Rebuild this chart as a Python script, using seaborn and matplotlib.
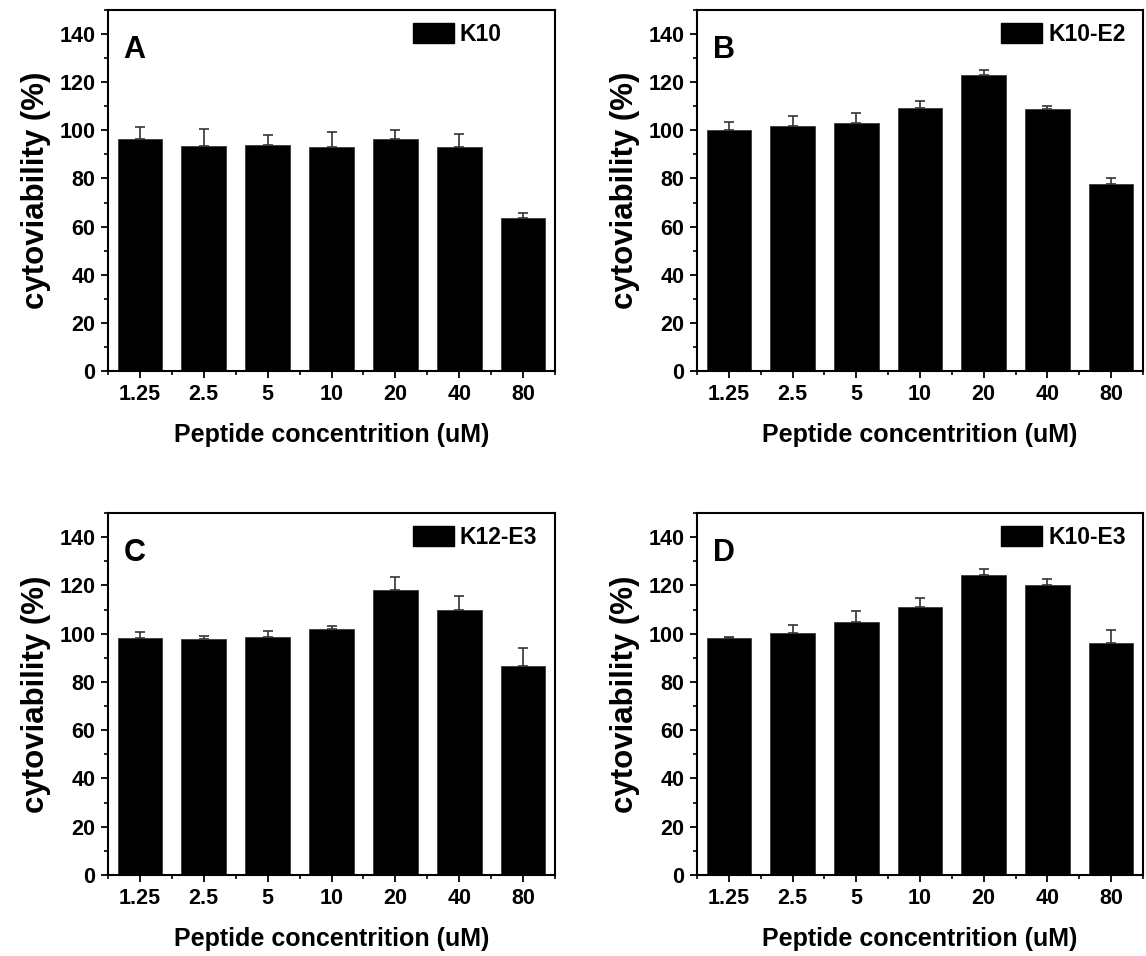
import matplotlib
matplotlib.use("Agg")
import matplotlib.pyplot as plt
from matplotlib.patches import Patch
from matplotlib.ticker import MultipleLocator, FixedLocator
import seaborn as sns
import numpy as np

# ---- data ----
concentrations = ["1.25", "2.5", "5", "10", "20", "40", "80"]

k10_vals = [96.2, 93.5, 93.9, 93.2, 96.4, 93.1, 63.7]
k10_err = [5.3, 7.0, 4.2, 6.3, 3.9, 5.5, 2.1]

k10e2_vals = [100.2, 102.0, 103.2, 109.2, 122.9, 108.8, 77.9]
k10e2_err = [3.4, 4.1, 4.2, 2.9, 2.2, 1.5, 2.3]

k12e3_vals = [98.4, 97.7, 98.8, 101.8, 118.1, 109.6, 86.4]
k12e3_err = [2.2, 1.5, 2.1, 1.3, 5.4, 6.0, 7.7]

k10e3_vals = [98.0, 100.2, 104.8, 110.9, 124.3, 120.2, 96.3]
k10e3_err = [0.6, 3.2, 4.5, 3.7, 2.4, 2.5, 5.4]

panel_letters = ["A", "B", "C", "D"]
series_names = ["K10", "K10-E2", "K12-E3", "K10-E3"]
y_ticks = [0, 20, 40, 60, 80, 100, 120, 140]

series_vals = [k10_vals, k10e2_vals, k12e3_vals, k10e3_vals]
series_errs = [k10_err, k10e2_err, k12e3_err, k10e3_err]

# ---- style ----
sns.set_theme(style="ticks")
plt.rcParams["font.family"] = ["Liberation Sans", "DejaVu Sans"]
plt.rcParams["font.weight"] = "bold"
plt.rcParams["axes.labelweight"] = "bold"
plt.rcParams["text.color"] = "black"
plt.rcParams["axes.labelcolor"] = "black"
plt.rcParams["xtick.color"] = "black"
plt.rcParams["ytick.color"] = "black"

W, H = 1146, 956
fig = plt.figure(figsize=(W / 100, H / 100), dpi=100)

# axes boxes in pixels: (left, right, top, bottom)
boxes = [(108, 555, 10, 371), (697, 1143, 10, 371),
         (108, 555, 513, 875), (697, 1143, 513, 875)]

for i, (l, r, t, b) in enumerate(boxes):
    ax = fig.add_axes([l / W, 1 - b / H, (r - l) / W, (b - t) / H])
    vals = series_vals[i]
    errs = series_errs[i]
    sns.barplot(x=concentrations, y=vals, color="black", width=0.7,
                edgecolor="#3a3a3a", linewidth=0.6, saturation=1,
                order=concentrations, ax=ax)
    xpos = np.arange(len(concentrations))
    ax.errorbar(xpos, vals, yerr=[np.zeros(len(vals)), errs], fmt="none",
                ecolor="#333333", elinewidth=1.2, capsize=3.5, capthick=1.2)
    ax.set_ylim(0, 150)
    ax.set_xlim(-0.5, len(concentrations) - 0.5)
    ax.yaxis.set_major_locator(FixedLocator(y_ticks))
    ax.yaxis.set_minor_locator(MultipleLocator(10))
    ax.xaxis.set_minor_locator(FixedLocator(np.arange(-0.5, len(concentrations), 1.0)))
    for s in ax.spines.values():
        s.set_visible(True)
        s.set_linewidth(1.5)
        s.set_color("black")
    ax.tick_params(axis="both", which="major", direction="out", length=5,
                   width=1.3, colors="black", labelsize=15.5, pad=4)
    ax.tick_params(axis="both", which="minor", direction="out", length=3,
                   width=1.2, colors="black")
    ax.tick_params(top=False, right=False, which="both")
    for lab in ax.get_xticklabels() + ax.get_yticklabels():
        lab.set_fontweight("bold")
    ax.set_ylabel("cytoviability (%)", fontsize=22.5, fontweight="bold",
                  labelpad=6, color="black")
    ax.set_xlabel("Peptide concentrition (uM)", fontsize=18,
                  fontweight="bold", labelpad=13, color="black")
    ax.text(0.035, 0.93, panel_letters[i], transform=ax.transAxes,
            fontsize=22, fontweight="bold", va="top", ha="left", color="black")
    handle = Patch(facecolor="black", edgecolor="black")
    leg = ax.legend([handle], [series_names[i]], loc="upper left",
                    bbox_to_anchor=(0.682, 0.965), frameon=False,
                    prop={"weight": "bold", "size": 16.5},
                    handlelength=1.8, handleheight=1.0, handletextpad=0.25,
                    borderpad=0.0, borderaxespad=0)
    for txt in leg.get_texts():
        txt.set_color("black")

fig.savefig("out.png", dpi=100, facecolor="white")
